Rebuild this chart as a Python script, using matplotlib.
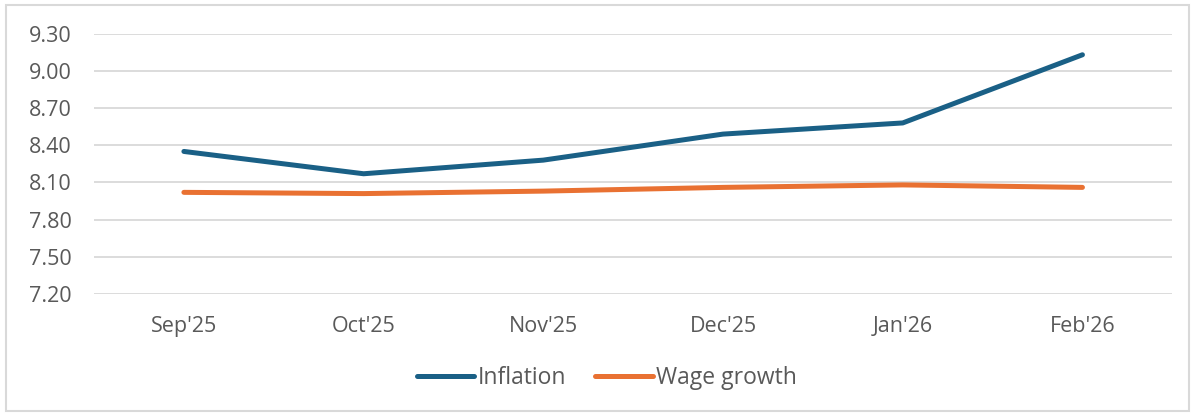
import matplotlib
matplotlib.use("Agg")
import matplotlib.pyplot as plt
from matplotlib.patches import Rectangle

months = ["Sep'25", "Oct'25", "Nov'25", "Dec'25", "Jan'26", "Feb'26"]
inflation = [8.35, 8.17, 8.28, 8.49, 8.58, 9.13]
wage_growth = [8.02, 8.01, 8.03, 8.06, 8.08, 8.06]
y_ticks = [7.20, 7.50, 7.80, 8.10, 8.40, 8.70, 9.00, 9.30]

plt.rcParams['font.family'] = ['Open Sans', 'DejaVu Sans']
text_color = '#595959'

fig = plt.figure(figsize=(11.95, 4.15), dpi=100)
ax = fig.add_axes([0.0787, 0.2916, 0.9023, 0.6272])

x = list(range(len(months)))
ax.plot(x, inflation, color='#1A6086', lw=3.6, solid_capstyle='round',
        solid_joinstyle='round', label='Inflation')
ax.plot(x, wage_growth, color='#E97132', lw=3.6, solid_capstyle='round',
        solid_joinstyle='round', label='Wage growth')

ax.set_xlim(-0.5, len(months) - 0.5)
ax.set_ylim(7.20, 9.30)
ax.set_yticks(y_ticks)
ax.set_yticklabels([f"{v:.2f}" for v in y_ticks])
ax.set_xticks(x)
ax.set_xticklabels(months)
ax.grid(axis='y', color='#D9D9D9', lw=1.3)
ax.set_axisbelow(True)
for s in ax.spines.values():
    s.set_visible(False)
ax.tick_params(length=0, labelsize=15.5, labelcolor=text_color)
ax.tick_params(axis='y', pad=16)
ax.tick_params(axis='x', pad=16)

leg = fig.legend(loc='center', bbox_to_anchor=(0.508, 0.088), ncol=2,
                 frameon=False, fontsize=16.5, handlelength=2.5,
                 handletextpad=0.17, columnspacing=1.26)
for t in leg.get_texts():
    t.set_color(text_color)

fig.patches.append(Rectangle((0.005, 0.01), 0.99, 0.978, transform=fig.transFigure,
                             fill=False, edgecolor='#D9D9D9', lw=1.5))

fig.savefig("out.png", dpi=100)
